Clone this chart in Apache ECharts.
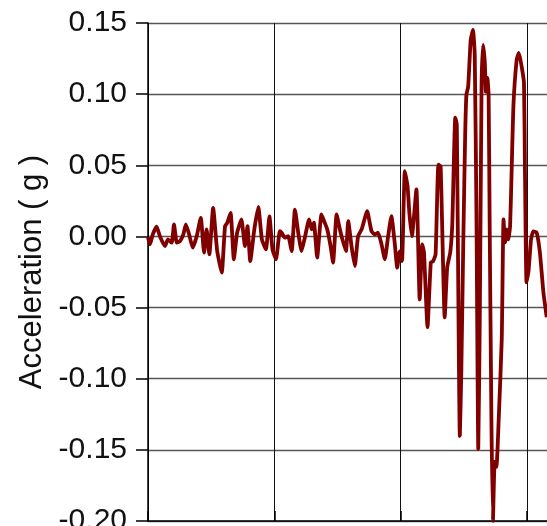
<!DOCTYPE html>
<html>
<head>
<meta charset="utf-8">
<script src="https://cdn.jsdelivr.net/npm/echarts@6/dist/echarts.min.js"></script>
<style>
html,body{margin:0;padding:0;background:#fff;}
#chart{width:547px;height:526px;}
</style>
</head>
<body>
<div id="chart"></div>
<script>
// Time (s) and acceleration (g)
var timeS = [0.00,0.08,0.19,0.34,0.47,0.67,0.79,0.94,1.03,1.14,1.27,1.40,1.50,1.63,1.77,1.93,2.09,2.22,2.32,2.43,2.58,2.74,2.92,3.05,3.14,3.27,3.40,3.53,3.70,3.84,3.94,4.05,4.21,4.37,4.51,4.67,4.81,4.93,5.07,5.22,5.29,5.42,5.55,5.69,5.82,5.95,6.08,6.21,6.38,6.48,6.57,6.70,6.87,7.00,7.10,7.23,7.33,7.47,7.60,7.70,7.84,7.93,8.06,8.19,8.32,8.46,8.68,8.85,8.98,9.11,9.25,9.38,9.51,9.64,9.77,9.87,9.97,10.06,10.17,10.28,10.35,10.45,10.63,10.76,10.86,10.93,11.07,11.20,11.29,11.39,11.50,11.59,11.75,11.85,11.97,12.05,12.17,12.23,12.35,12.41,12.49,12.56,12.61,12.68,12.78,12.87,12.94,13.01,13.08,13.14,13.21,13.27,13.34,13.38,13.44,13.49,13.53,13.60,13.66,13.73,13.80,13.89,14.01,14.08,14.14,14.21,14.27,14.34,14.40,14.47,14.60,14.69,14.80,14.89,14.93,14.99,15.07,15.17,15.26,15.39,15.52,15.66,15.79];
var accelG = [-0.0007,-0.0056,0.0014,0.0068,0.0002,-0.0068,-0.0021,-0.0044,0.0084,-0.0044,-0.0033,0.0014,0.0084,0.0014,-0.0079,0.0002,0.0131,-0.0114,0.0049,-0.0126,0.0201,-0.0103,-0.0255,0.0072,0.0096,0.0166,-0.0161,0.0026,0.0119,-0.0068,0.0072,-0.0173,0.0049,0.0207,-0.0021,-0.0091,0.0140,-0.0091,-0.0161,0.0037,0.0026,-0.0009,0.0002,-0.0103,0.0189,0.0026,-0.0103,-0.0009,0.0119,0.0049,0.0096,-0.0149,0.0154,0.0096,0.0049,-0.0068,-0.0184,0.0154,0.0049,-0.0021,-0.0103,0.0107,-0.0068,-0.0208,0.0002,0.0049,0.0177,0.0037,0.0014,0.0026,-0.0056,-0.0161,0.0002,0.0142,-0.0044,-0.0219,-0.0105,-0.0173,0.0458,0.0353,0.0166,0.0002,0.0330,-0.0442,-0.0056,-0.0112,-0.0638,-0.0182,-0.0175,-0.0126,0.0505,0.0491,-0.0568,-0.0217,-0.0112,0.0084,0.0835,0.0785,-0.1403,-0.0933,0.0000,0.0701,0.0996,0.1052,0.1381,0.1452,0.1276,0.0119,-0.1494,-0.0582,0.1052,0.1346,0.1220,0.1017,0.1115,0.0996,0.0119,-0.1283,-0.2000,-0.1585,-0.1620,-0.1283,-0.0722,0.0119,-0.0042,0.0049,-0.0021,0.0070,0.0449,0.0912,0.1241,0.1290,0.1192,0.1080,0.0449,-0.0323,-0.0245,-0.0021,0.0035,0.0028,-0.0112,-0.0393,-0.0568];
var yTicks = {min: -0.20, max: 0.15, step: 0.05};
var xTicks = {min: 0, max: 20, step: 5};
var yTitle = 'Acceleration ( g )';

var seriesData = timeS.map(function (t, i) { return [t, accelG[i]]; });

var chart = echarts.init(document.getElementById('chart'), null, {renderer: 'canvas'});
var font = 'Liberation Sans, Arial, Helvetica, sans-serif';
chart.setOption({
  animation: false,
  backgroundColor: '#ffffff',
  grid: {left: 148, top: 23, width: 505, height: 498, containLabel: false, outerBoundsMode: 'none'},
  xAxis: {
    type: 'value',
    min: xTicks.min, max: xTicks.max, interval: xTicks.step,
    axisLine: {show: true, onZero: false, lineStyle: {color: '#000', width: 1.5}},
    axisTick: {show: true, inside: true, length: 10, lineStyle: {color: '#000', width: 1.5}},
    axisLabel: {show: false},
    splitLine: {show: true, lineStyle: {color: '#111', width: 1}}
  },
  yAxis: {
    type: 'value',
    min: yTicks.min, max: yTicks.max, interval: yTicks.step,
    name: yTitle,
    nameLocation: 'middle',
    nameGap: 99,
    nameRotate: 90,
    nameTextStyle: {fontFamily: font, fontSize: 31, color: '#111'},
    axisLine: {show: true, onZero: false, lineStyle: {color: '#000', width: 1.5}},
    axisTick: {show: true, inside: false, length: 12, lineStyle: {color: '#000', width: 1.5}},
    axisLabel: {
      show: true, margin: 21, fontFamily: font, fontSize: 30, color: '#111',
      formatter: function (v) { return v.toFixed(2); }
    },
    splitLine: {show: true, lineStyle: {color: '#555', width: 1.3}}
  },
  series: [{
    type: 'line',
    data: seriesData,
    showSymbol: false,
    smooth: 0.15,
    clip: true,
    lineStyle: {color: '#800000', width: 3.8},
    itemStyle: {color: '#800000'}
  }]
});
</script>
</body>
</html>
